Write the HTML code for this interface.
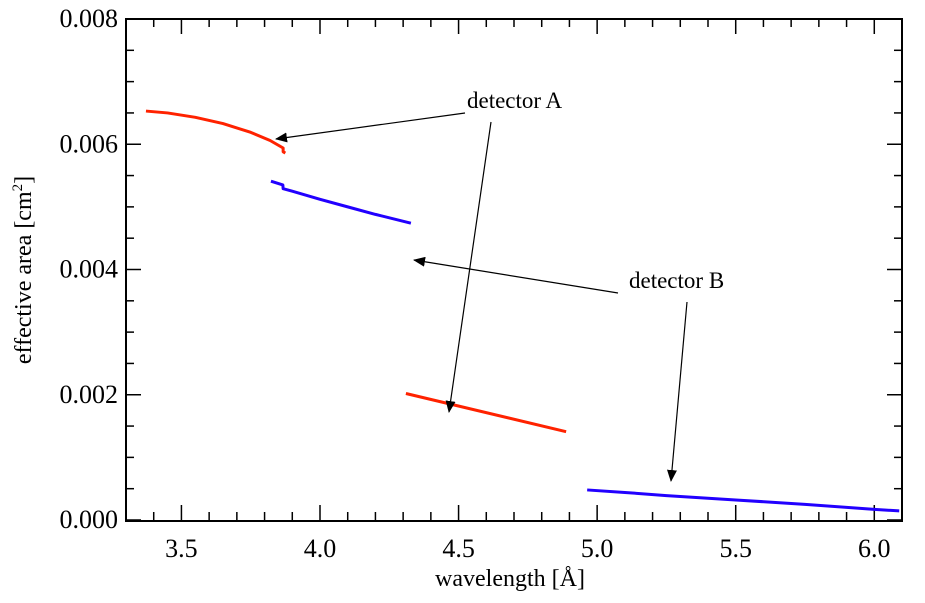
<!DOCTYPE html>
<html><head><meta charset="utf-8"><style>
html,body{margin:0;padding:0;background:#fff;}
svg{display:block;}
svg text{font-family:"Liberation Serif","DejaVu Serif",serif !important;}
</style></head><body>
<svg id="chart" width="925" height="603" viewBox="0 0 925 603" xmlns="http://www.w3.org/2000/svg">
<defs><marker id="ah" markerWidth="12" markerHeight="10" refX="11" refY="5" orient="auto" markerUnits="userSpaceOnUse"><path d="M0,0 L12,5 L0,10 Z" fill="#000"/></marker></defs>
<g id="plot"></g>
</svg>
<script>
const xTicks=[3.5,4.0,4.5,5.0,5.5,6.0];
const xTickLabels=["3.5","4.0","4.5","5.0","5.5","6.0"];
const yTicks=[0,0.002,0.004,0.006,0.008];
const yTickLabels=["0.000","0.002","0.004","0.006","0.008"];
const detA1x=[3.372,3.45,3.55,3.65,3.75,3.82,3.867,3.867,3.875];
const detA1y=[0.00653,0.00650,0.00643,0.00633,0.00619,0.00606,0.00594,0.00588,0.00586];
const detB1x=[3.823,3.866,3.867,3.9,4.0,4.1,4.2,4.328];
const detB1y=[0.00541,0.00535,0.00529,0.00525,0.00512,0.00500,0.00488,0.00474];
const detA2x=[4.31,4.888];
const detA2y=[0.00202,0.00141];
const detB2x=[4.964,5.1,5.25,5.5,5.75,6.0,6.09];
const detB2y=[0.00048,0.00044,0.00039,0.00032,0.00025,0.00017,0.000145];

const L=126,R=902,T=19,B=520,xMin=3.3,xMax=6.1,yMin=0,yMax=0.008;
const sx=v=>L+(v-xMin)/(xMax-xMin)*(R-L);
const sy=v=>B-(v-yMin)/(yMax-yMin)*(B-T);
const NS="http://www.w3.org/2000/svg";
const g=document.getElementById('plot');
function mk(t,a){const e=document.createElementNS(NS,t);for(const k in a)e.setAttribute(k,a[k]);if(t==='text')e.style.fontFamily='"Liberation Serif","DejaVu Serif",serif';g.appendChild(e);return e;}

const frame=mk('rect',{x:L,y:T,width:R-L,height:B-T+1,fill:'none',stroke:'#000','stroke-width':2});



for(let v=3.3;v<=6.1001;v+=0.1){
  const x=sx(v);const major=Math.abs(v*2-Math.round(v*2))<1e-6;const len=major?15:8;
  const t1=mk('line',{x1:x,x2:x,y1:B,y2:B-len,stroke:'#000','stroke-width':1.5});
  
  
  const t2=mk('line',{x1:x,x2:x,y1:T,y2:T+len,stroke:'#000','stroke-width':1.5});
  
  
}
xTicks.forEach((v,i)=>{
  const t=mk('text',{x:sx(v),y:557,'text-anchor':'middle','font-size':26});
  t.textContent=xTickLabels[i];
  
  
});
for(let k=0;k<=16;k++){
  const v=k*0.0005;const y=sy(v);const major=k%4===0;const len=major?15:8;
  const t1=mk('line',{x1:L,x2:L+len,y1:y,y2:y,stroke:'#000','stroke-width':1.5});
  
  
  const t2=mk('line',{x1:R,x2:R-len,y1:y,y2:y,stroke:'#000','stroke-width':1.5});
  
  
}
yTicks.forEach((v,i)=>{
  const t=mk('text',{x:118,y:sy(v)+8,'text-anchor':'end','font-size':26});
  t.textContent=yTickLabels[i];
  
  
});
const xt=mk('text',{x:510,y:586,'text-anchor':'middle','font-size':24});
xt.textContent='wavelength [Å]';


const yt=mk('text',{x:0,y:0,'text-anchor':'middle','font-size':24,transform:'translate(31,270) rotate(-90)'});
yt.innerHTML='effective area [cm<tspan dy="-9" font-size="15">2</tspan><tspan dy="9">]</tspan>';



function series(xs,ys,color,name){
  const p=mk('polyline',{points:xs.map((x,i)=>sx(x)+','+sy(ys[i])).join(' '),fill:'none',stroke:color,'stroke-width':3,'stroke-linejoin':'round'});
  
  
}
series(detA1x,detA1y,'#ff2200','detector-a-line-1');
series(detB1x,detB1y,'#2200ff','detector-b-line-1');
series(detA2x,detA2y,'#ff2200','detector-a-line-2');
series(detB2x,detB2y,'#2200ff','detector-b-line-2');

function arrow(x1,y1,x2,y2,name){
  const a=mk('line',{x1,y1,x2,y2,stroke:'#000','stroke-width':1.2,'marker-end':'url(#ah)'});
  
  
}
arrow(465,113,276,139,'arrow-a-upper');
arrow(491,122,449,412,'arrow-a-lower');
arrow(618,293,414,260,'arrow-b-upper');
arrow(687,302,671,481,'arrow-b-lower');
const la=mk('text',{x:467,y:108,'font-size':23,'xml:space':'preserve'});
la.textContent='detector  A';


const lb=mk('text',{x:629,y:288,'font-size':23,'xml:space':'preserve'});
lb.textContent='detector  B';


</script>
</body></html>
